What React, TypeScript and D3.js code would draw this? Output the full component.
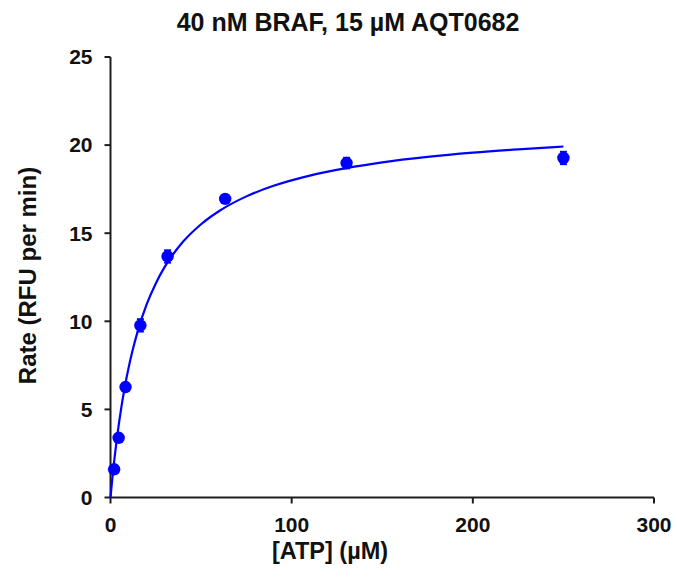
import React from "react";
import * as d3 from "d3";

const atp = [2, 4.5, 8.3, 16.5, 31.5, 63.3, 130.3, 250];
const rate = [1.6, 3.39, 6.27, 9.77, 13.68, 16.95, 18.98, 19.27];
const err = [0.1, 0.12, 0.2, 0.35, 0.35, 0.15, 0.3, 0.35];

const fitX = [0, 1, 2, 4, 6, 8, 10, 12, 15, 20, 25, 30, 40, 50, 60, 75, 90, 110, 130, 150, 175, 200, 225, 250];
const fitY = [0, 1.07, 2.03, 3.71, 5.13, 6.33, 7.37, 8.27, 9.43, 10.97, 12.15, 13.1, 14.51, 15.51, 16.26, 17.09, 17.69, 18.27, 18.69, 19.02, 19.33, 19.57, 19.76, 19.92];

const xTicks = [0, 100, 200, 300];
const yTicks = [0, 5, 10, 15, 20, 25];

const title = "40 nM BRAF, 15 µM AQT0682";
const xTitle = "[ATP] (µM)";
const yTitle = "Rate (RFU per min)";

export default function App() {
  const W = 677, H = 577;
  const x = d3.scaleLinear().domain([0, 300]).range([110.5, 654]);
  const y = d3.scaleLinear().domain([0, 25]).range([497.5, 57]);
  const blue = "#0000ff";
  const axisColor = "#1e1e1e";
  const font = "'Liberation Sans', Arial, sans-serif";
  const line = d3
    .line<number>()
    .x((_, i) => x(fitX[i]))
    .y((d) => y(d))
    .curve(d3.curveMonotoneX);

  return (
    <svg width={W} height={H} style={{ position: "absolute", left: 0, top: 0, background: "#fff" }} fontFamily={font}>
      <rect x={0} y={0} width={W} height={H} fill="#fff" />
      <text x={348} y={31} textAnchor="middle" fontSize={25} fontWeight="bold" fill="#111">
        {title}
      </text>
      {/* axes */}
      <line x1={x(0)} x2={x(0)} y1={y(25)} y2={y(0)} stroke={axisColor} strokeWidth={2} />
      <line x1={x(0)} x2={x(300)} y1={y(0)} y2={y(0)} stroke={axisColor} strokeWidth={2} />
      {yTicks.map((t) => (
        <g key={"y" + t}>
          <line x1={x(0) - 6} x2={x(0)} y1={y(t)} y2={y(t)} stroke={axisColor} strokeWidth={2} />
          <text x={x(0) - 18} y={y(t)} dy="0.35em" textAnchor="end" fontSize={21} fontWeight="bold" fill="#111">
            {t}
          </text>
        </g>
      ))}
      {xTicks.map((t) => (
        <g key={"x" + t}>
          <line x1={x(t)} x2={x(t)} y1={y(0)} y2={y(0) + 6} stroke={axisColor} strokeWidth={2} />
          <text x={x(t)} y={531.5} textAnchor="middle" fontSize={21} fontWeight="bold" fill="#111">
            {t}
          </text>
        </g>
      ))}
      <text x={330} y={559} textAnchor="middle" fontSize={23.5} fontWeight="bold" fill="#111">
        {xTitle}
      </text>
      <text
        transform={`translate(36, ${275.5}) rotate(-90)`}
        textAnchor="middle"
        fontSize={24}
        fontWeight="bold"
        fill="#111"
      >
        {yTitle}
      </text>
      {/* fit curve */}
      <path d={line(fitY) || ""} fill="none" stroke={blue} strokeWidth={2.2} />
      {/* error bars */}
      {atp.map((a, i) => (
        <g key={"e" + i} stroke={blue} strokeWidth={2}>
          <line x1={x(a)} x2={x(a)} y1={y(rate[i] - err[i])} y2={y(rate[i] + err[i])} />
          <line x1={x(a) - 3.5} x2={x(a) + 3.5} y1={y(rate[i] + err[i])} y2={y(rate[i] + err[i])} />
          <line x1={x(a) - 3.5} x2={x(a) + 3.5} y1={y(rate[i] - err[i])} y2={y(rate[i] - err[i])} />
        </g>
      ))}
      {/* points */}
      {atp.map((a, i) => (
        <circle key={"p" + i} cx={x(a)} cy={y(rate[i])} r={6.2} fill={blue} />
      ))}
    </svg>
  );
}
